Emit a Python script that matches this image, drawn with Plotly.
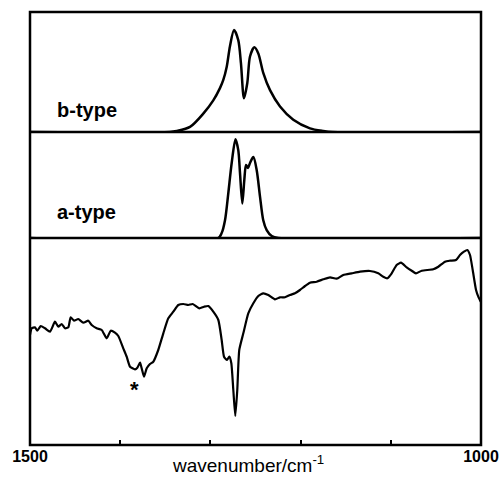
import plotly.graph_objects as go

# ---- data (wavenumber in cm-1, intensities in arbitrary units) ----
b_wn = [1500, 1345, 1337.4, 1322.6, 1307.9, 1296.8, 1289.4, 1285.7, 1281.9, 1278.3, 1273.8,
        1269.1, 1266.1, 1262.8, 1259.1, 1256.1, 1251.3, 1246.9, 1241.4, 1233.9, 1222.8,
        1208.1, 1189.6, 1174.8, 1165, 1000]
b_int = [0, 0, 0.01, 0.05, 0.18, 0.31, 0.43, 0.51, 0.64, 0.84, 1.0,
         0.90, 0.67, 0.33, 0.48, 0.74, 0.83, 0.77, 0.58, 0.41, 0.25,
         0.12, 0.036, 0.01, 0, 0]

a_wn = [1500, 1291.3, 1287.5, 1283.8, 1280.2, 1276.4, 1272.2, 1269.1, 1267.2, 1264.6,
        1262.4, 1260.5, 1258.3, 1256.1, 1252.4, 1248.7, 1245.0, 1241.4, 1237.6, 1232.0,
        1224.7, 1000]
a_int = [0, 0, 0.05, 0.18, 0.45, 0.76, 1.0, 0.89, 0.66, 0.35,
         0.59, 0.74, 0.71, 0.76, 0.82, 0.69, 0.42, 0.18, 0.08, 0.02,
         0, 0]

s_wn = [1500.0, 1498.1, 1494.5, 1491.9, 1488.1, 1483.4, 1477.8, 1472.3, 1468.6, 1464.9,
        1461.2, 1457.5, 1454.9, 1451.2, 1446.5, 1440.9, 1435.4, 1431.6, 1426.1, 1420.5,
        1415.0, 1410.5, 1405.8, 1402.1, 1396.6, 1392.8, 1389.1, 1383.6, 1381.0, 1378.0,
        1376.2, 1373.6, 1370.6, 1367.0, 1363.3, 1357.8, 1352.2, 1346.7, 1341.1, 1335.6,
        1330.0, 1324.5, 1319.6, 1312.3, 1307.1, 1302.3, 1296.8, 1291.2, 1287.5, 1284.9,
        1281.9, 1279.0, 1276.8, 1274.6, 1272.4, 1270.2, 1268.0, 1263.5, 1258.0, 1252.4,
        1246.9, 1241.4, 1235.8, 1228.4, 1222.8, 1217.3, 1211.8, 1206.2, 1200.7, 1195.1,
        1189.6, 1182.2, 1174.8, 1167.4, 1160.0, 1152.7, 1143.3, 1134.1, 1123.1, 1113.9,
        1108.3, 1103.9, 1099.0, 1093.5, 1088.7, 1082.4, 1076.8, 1072.1, 1065.7, 1052.9,
        1047.3, 1039.9, 1034.4, 1027.7, 1023.3, 1018.9, 1015.2, 1012.2, 1009.2, 1005.5,
        1003.0, 1000.3]
s_int = [1.10, 1.167, 1.177, 1.143, 1.19, 1.167, 1.133, 1.233, 1.183, 1.21,
         1.167, 1.177, 1.277, 1.243, 1.26, 1.223, 1.243, 1.20, 1.167, 1.15,
         1.067, 1.143, 1.123, 1.09, 0.967, 0.883, 0.783, 0.757, 0.773, 0.823,
         0.767, 0.683, 0.767, 0.81, 0.833, 0.95, 1.117, 1.267, 1.333, 1.40,
         1.41, 1.40, 1.41, 1.367, 1.383, 1.39, 1.333, 1.25, 1.05, 0.883,
         0.85, 0.883, 0.817, 0.55, 0.29, 0.55, 0.95, 1.117, 1.317, 1.417,
         1.49, 1.517, 1.50, 1.457, 1.477, 1.477, 1.50, 1.517, 1.55, 1.59,
         1.623, 1.633, 1.657, 1.677, 1.663, 1.70, 1.717, 1.733, 1.74, 1.717,
         1.683, 1.667, 1.717, 1.80, 1.823, 1.777, 1.743, 1.717, 1.743, 1.757,
         1.783, 1.833, 1.843, 1.85, 1.90, 1.933, 1.95, 1.90, 1.75, 1.55,
         1.483, 1.433]

label_ticks = [1500, 1000]
label_text = ["<b>1500</b>", "<b>1000</b>"]
minor_ticks = [1400, 1300, 1200, 1100]

FONT = "Liberation Sans, Arial, sans-serif"
LW = 2.5

fig = go.Figure()
fig.add_trace(go.Scatter(x=b_wn, y=b_int, mode="lines", xaxis="x", yaxis="y",
                         line=dict(color="black", width=LW, shape="spline", smoothing=0.8)))
fig.add_trace(go.Scatter(x=a_wn, y=a_int, mode="lines", xaxis="x", yaxis="y2",
                         line=dict(color="black", width=LW, shape="spline", smoothing=0.8)))
fig.add_trace(go.Scatter(x=s_wn, y=s_int, mode="lines", xaxis="x", yaxis="y3",
                         line=dict(color="black", width=2.2, shape="spline", smoothing=0.5)))

d1 = 207 / 433
d2 = 313 / 433

fig.update_layout(
    width=500, height=480,
    margin=dict(l=30, r=19, t=12, b=35, autoexpand=False),
    paper_bgcolor="white", plot_bgcolor="white",
    showlegend=False,
    font=dict(family=FONT, color="black"),
    xaxis=dict(range=[1500, 1000], anchor="y3", tickvals=label_ticks, ticktext=label_text,
               ticks="", automargin=False,
               minor=dict(tickvals=minor_ticks, ticks="inside", ticklen=5, tickwidth=1.5,
                          tickcolor="black", showgrid=False),
               showgrid=False, zeroline=False, showline=False,
               tickfont=dict(size=16, family=FONT, color="black")),
    yaxis=dict(domain=[d2, 1], range=[0, 1.176], visible=False),
    yaxis2=dict(domain=[d1, d2], range=[0, 1.074], visible=False),
    yaxis3=dict(domain=[0, d1], range=[0, 2.07], visible=False),
    shapes=[
        dict(type="rect", xref="paper", yref="paper", x0=0, x1=1, y0=0, y1=1,
             line=dict(color="black", width=LW)),
        dict(type="line", xref="paper", yref="paper", x0=0, x1=1, y0=d2, y1=d2,
             line=dict(color="black", width=LW)),
        dict(type="line", xref="paper", yref="paper", x0=0, x1=1, y0=d1, y1=d1,
             line=dict(color="black", width=LW)),
    ],
    annotations=[
        dict(text="<b>b-type</b>", x=1472.3, y=0.216, xref="x", yref="y",
             xanchor="left", yanchor="middle", showarrow=False,
             font=dict(size=20, family=FONT, color="black")),
        dict(text="<b>a-type</b>", x=1472.3, y=0.263, xref="x", yref="y2",
             xanchor="left", yanchor="middle", showarrow=False,
             font=dict(size=20, family=FONT, color="black")),
        dict(text="<b>*</b>", x=1383.6, y=0.56, xref="x", yref="y3",
             xanchor="center", yanchor="middle", showarrow=False,
             font=dict(size=22, family=FONT, color="black")),
        dict(text="wavenumber/cm<sup>-1</sup>", x=0.483, y=-0.044, xref="paper", yref="paper",
             xanchor="center", yanchor="middle", showarrow=False,
             font=dict(size=19, family=FONT, color="black")),
    ],
)

fig.write_html("out.html")
